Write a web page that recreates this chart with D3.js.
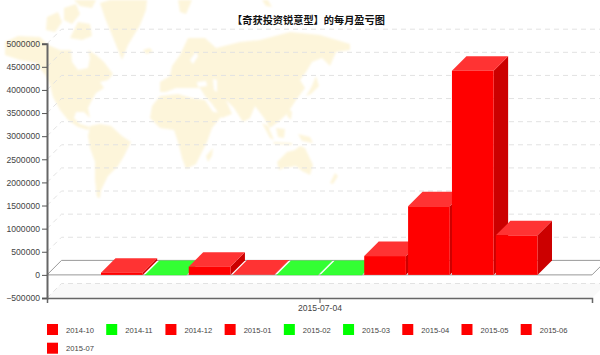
<!DOCTYPE html>
<html>
<head>
<meta charset="utf-8">
<script src="https://cdn.jsdelivr.net/npm/d3@7"></script>
<style>
html, body { margin: 0; padding: 0; background: #fff; }
svg { display: block; }
text { font-family: "Liberation Sans", Arial, sans-serif; }
</style>
</head>
<body>
<svg width="600" height="355"></svg>
<script>
const chartTitle = '【奇获投资锐意型】的每月盈亏图'
const months = ['2014-10', '2014-11', '2014-12', '2015-01', '2015-02', '2015-03', '2015-04', '2015-05', '2015-06', '2015-07']
const profits = [48000, -6000, 178000, 8000, -6000, -6000, 407000, 1484000, 4415000, 855000]
const yTicks = [-500000, 0, 500000, 1000000, 1500000, 2000000, 2500000, 3000000, 3500000, 4000000, 4500000, 5000000]
const dateLabels = ['2015-07-04']

// background world map, rough outlines in page pixels
const continents = [
  // north america + alaska
  [[5,42],[18,36],[40,37],[48,45],[60,50],[71,50],[72,62],[78,70],[88,68],[90,58],[88,50],[96,55],[104,62],[113,74],[108,80],[100,82],[104,88],[96,93],[92,100],[88,108],[90,118],[84,112],[76,112],[74,118],[80,124],[90,127],[88,130],[78,127],[68,120],[60,110],[53,97],[50,85],[46,76],[36,63],[20,60],[5,55]],
  // arctic islands
  [[47,17],[58,12],[62,22],[55,32],[46,30]],
  [[64,8],[76,4],[80,14],[72,24],[64,20]],
  [[78,22],[90,24],[92,36],[82,40],[70,38]],
  [[74,0],[96,0],[92,8],[80,6]],
  // greenland
  [[100,3],[110,0],[147,0],[146,10],[140,25],[128,45],[122,60],[118,50],[112,35],[105,18]],
  // iceland
  [[143,50],[150,48],[153,52],[146,54]],
  // svalbard etc
  [[178,0],[192,0],[186,14],[180,12]],
  [[262,0],[268,0],[272,7],[266,6]],
  // south america
  [[90,126],[100,124],[111,126],[122,136],[131,142],[124,156],[118,166],[108,176],[101,190],[100,198],[97,197],[95,180],[95,162],[90,148],[88,136]],
  // africa
  [[160,96],[178,94],[192,98],[205,100],[213,112],[224,113],[212,128],[207,142],[196,164],[186,169],[182,158],[178,142],[174,130],[160,128],[150,118],[152,106]],
  [[213,148],[212,156],[208,162],[206,156]],
  // eurasia
  [[180,55],[188,38],[205,38],[216,48],[240,42],[260,40],[290,32],[320,35],[350,44],[350,50],[336,52],[330,66],[322,58],[312,62],[306,72],[300,80],[305,88],[296,100],[287,114],[278,122],[270,128],[264,118],[255,106],[250,118],[243,122],[234,108],[226,100],[232,114],[222,118],[212,104],[205,96],[200,88],[188,88],[176,88],[166,92],[160,92],[160,82],[170,76],[172,66]],
  // japan
  [[316,76],[319,86],[311,94],[306,96],[311,88]],
  // indonesia, philippines
  [[262,123],[268,126],[274,140],[270,138]],
  [[276,128],[285,129],[284,138],[278,137]],
  [[273,142],[292,143],[292,145],[274,144]],
  [[288,108],[292,112],[291,120],[287,116]],
  [[298,134],[310,137],[313,143],[302,141]],
  // australia
  [[277,162],[287,152],[295,150],[300,146],[305,148],[313,165],[310,175],[302,171],[296,166],[284,168],[279,170]],
  // new zealand
  [[335,173],[338,176],[333,184],[330,183]]
]

// inland seas cut back out of the map
const seas = [
  [[197,82],[206,81],[207,86],[198,87]],
  [[213,79],[217,80],[217,92],[214,90]],
  [[190,60],[196,52],[198,56],[193,64]]
]

const svg = d3.select('svg')

const left = 47
const right = 592
const depth = 14.5

const y = d3.scaleLinear()
  .domain([-500000, 5000000])
  .range([298, 43.7])

const x = d3.scaleBand()
  .domain(months)
  .range([101, 537.5])
  .paddingInner(0.05)

const xDate = d3.scalePoint()
  .domain(dateLabels)
  .range([left, right])
  .padding(0.5)

const isProfit = i => profits[i] >= 0

// map goes first, everything sits on top of it
svg.append('defs').append('filter')
  .attr('id', 'soft')
  .append('feGaussianBlur')
  .attr('stdDeviation', 0.9)

const outline = d3.line().curve(d3.curveLinearClosed)

const map = svg.append('g')
  .attr('filter', 'url(#soft)')

map.selectAll('path.land')
  .data(continents)
  .enter()
  .append('path')
  .attr('class', 'land')
  .attr('d', outline)
  .attr('fill', '#fdf5da')

map.selectAll('path.sea')
  .data(seas)
  .enter()
  .append('path')
  .attr('class', 'sea')
  .attr('d', outline)
  .attr('fill', '#fff')

// floor under the bars and the strip below it
const plane = (y0) => `M${left},${y0}L${left + depth},${y0 - depth}L${right + depth},${y0 - depth}L${right},${y0}Z`

svg.append('path')
  .attr('d', plane(y(-500000)))
  .attr('fill', '#f9f9f9')

// dashed grid on the back wall, with the slanted bit on the left wall
const grid = svg.append('g')
  .selectAll('path')
  .data(yTicks.filter(d => d !== 0))
  .enter()
  .append('path')
  .attr('d', d => `M${left},${y(d)}L${left + depth},${y(d) - depth}L${right + depth},${y(d) - depth}`)
  .attr('fill', 'none')
  .attr('stroke', '#e2e2e2')
  .attr('stroke-dasharray', '5,4')

svg.append('path')
  .attr('d', plane(y(0)))
  .attr('fill', '#fff')
  .attr('stroke', '#999')

// bars, left to right so the next front covers the last side
const bars = svg.append('g')
  .selectAll('g')
  .data(profits)
  .enter()
  .append('g')

const barTop = d => y(Math.max(d, 0))
const barBottom = d => y(Math.min(d, 0))

bars.append('path')
  .attr('d', (d, i) => {
    const x1 = x(months[i]) + x.bandwidth()
    return `M${x1},${barTop(d)}L${x1 + depth},${barTop(d) - depth}L${x1 + depth},${barBottom(d) - depth}L${x1},${barBottom(d)}Z`
  })
  .attr('fill', (d, i) => isProfit(i) ? '#cc0000' : '#00cc00')

bars.append('path')
  .attr('d', (d, i) => {
    const x0 = x(months[i])
    const x1 = x0 + x.bandwidth()
    return `M${x0},${barTop(d)}L${x0 + depth},${barTop(d) - depth}L${x1 + depth},${barTop(d) - depth}L${x1},${barTop(d)}Z`
  })
  .attr('fill', (d, i) => isProfit(i) ? '#ff3333' : '#33ff33')

bars.append('rect')
  .attr('x', (d, i) => x(months[i]))
  .attr('y', d => barTop(d))
  .attr('width', x.bandwidth())
  .attr('height', d => barBottom(d) - barTop(d))
  .attr('fill', (d, i) => isProfit(i) ? '#ff0000' : '#00ff00')

// axes
const yAxis = svg.append('g')
  .attr('transform', `translate(${left},0)`)
  .call(d3.axisLeft(y).tickValues(yTicks).tickFormat(d3.format('d')).tickSize(5).tickPadding(2))

const xAxis = svg.append('g')
  .attr('transform', `translate(0,${y(-500000)})`)
  .call(d3.axisBottom(xDate).tickSize(5).tickPadding(2))

yAxis.selectAll('.domain').attr('stroke', '#666').attr('stroke-width', 2)
xAxis.selectAll('.domain').attr('stroke', '#666').attr('stroke-width', 1.5)
svg.selectAll('.tick line').attr('stroke', '#555')
svg.selectAll('.tick text')
  .attr('fill', '#444')
  .style('font-family', '"Liberation Sans", Arial, sans-serif')
  .style('font-size', '8.6px')

svg.append('text')
  .attr('x', 308.5)
  .attr('y', 24)
  .attr('text-anchor', 'middle')
  .style('font-family', '"Noto Sans CJK SC", sans-serif')
  .style('font-size', '10.2px')
  .style('font-weight', 'bold')
  .attr('fill', '#111')
  .text(chartTitle)

// legend, 9 to a row
const legendX = d3.scaleLinear().domain([0, 8]).range([47, 520.7])
const legendY = d3.scaleLinear().domain([0, 1]).range([324, 342.7])

const legend = svg.append('g')
  .selectAll('g')
  .data(months)
  .enter()
  .append('g')
  .attr('transform', (d, i) => `translate(${legendX(i % 9)},${legendY(Math.floor(i / 9))})`)

legend.append('rect')
  .attr('width', 11)
  .attr('height', 11)
  .attr('fill', (d, i) => isProfit(i) ? '#ff0000' : '#00ff00')

legend.append('text')
  .attr('x', 19)
  .attr('y', 8.5)
  .attr('fill', '#444')
  .style('font-size', '7.6px')
  .text(d => d)
</script>
</body>
</html>
